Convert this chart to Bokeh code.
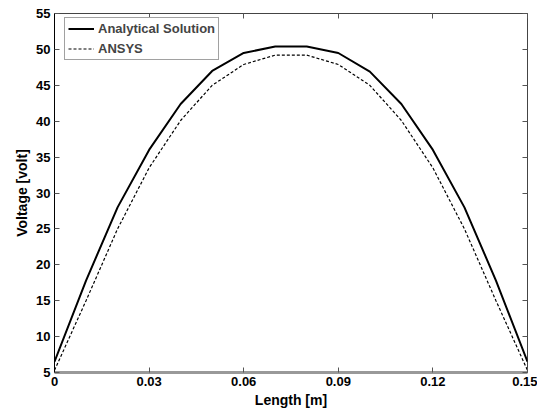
from bokeh.plotting import figure
from bokeh.models import Range1d, FixedTicker, LinearAxis, Legend, LegendItem, CustomJSTickFormatter
from bokeh.embed import file_html
from bokeh.resources import INLINE

# Data
length_m = [0.00, 0.01, 0.02, 0.03, 0.04, 0.05, 0.06, 0.07,
            0.08, 0.09, 0.10, 0.11, 0.12, 0.13, 0.14, 0.15]
analytical = [6.5, 17.8, 28.0, 36.0, 42.4, 47.0, 49.5, 50.4,
              50.4, 49.5, 46.9, 42.4, 36.0, 28.0, 17.8, 6.5]
ansys = [5.3, 15.0, 25.0, 33.5, 40.1, 45.0, 47.9, 49.2,
         49.2, 47.9, 45.0, 40.1, 33.5, 25.0, 15.0, 5.3]

x_ticks = [0, 0.03, 0.06, 0.09, 0.12, 0.15]
x_tick_labels = ["0", "0.03", "0.06", "0.09", "0.12", "0.15"]
y_ticks = [5, 10, 15, 20, 25, 30, 35, 40, 45, 50, 55]

FONT = "Liberation Sans"

p = figure(width=537, height=410, output_backend="svg", toolbar_location=None,
           x_range=Range1d(0, 0.15), y_range=Range1d(5, 55),
           min_border_left=54, min_border_right=10, min_border_top=13, min_border_bottom=38)
p.background_fill_color = "white"
p.border_fill_color = "white"
p.outline_line_color = "#444444"
p.outline_line_width = 1
p.xgrid.visible = False
p.ygrid.visible = False

r1 = p.line(length_m, analytical, line_color="black", line_width=2)
r2 = p.line(length_m, ansys, line_color="black", line_width=1.2, line_dash="3 2")

# main axes
xa = p.xaxis[0]
xa.ticker = FixedTicker(ticks=x_ticks)
xa.major_label_overrides = {t: l for t, l in zip(x_ticks, x_tick_labels)}
ya = p.yaxis[0]
ya.ticker = FixedTicker(ticks=y_ticks)

for ax in (xa, ya):
    ax.major_tick_in = 5
    ax.major_tick_out = 0
    ax.minor_tick_in = 0
    ax.minor_tick_out = 0
    ax.major_tick_line_color = "#555555"
    ax.major_label_text_font = FONT
    ax.major_label_text_font_style = "bold"
    ax.major_label_text_font_size = "13px"
    ax.major_label_text_color = "black"
    ax.axis_label_text_font = FONT
    ax.axis_label_text_font_style = "bold"
    ax.axis_label_text_font_size = "14px"
    ax.axis_label_text_color = "black"

xa.axis_label = "Length [m]"
ya.axis_label = "Voltage [volt]"
xa.axis_line_color = "#999999"
xa.axis_line_width = 3
ya.axis_line_color = "black"
ya.axis_line_width = 1
xa.major_label_standoff = 4
ya.major_label_standoff = 4
xa.axis_label_standoff = 3
ya.axis_label_standoff = 3

# mirrored tick-only axes
blank = CustomJSTickFormatter(code="return ''")
top = LinearAxis(ticker=FixedTicker(ticks=x_ticks), formatter=blank)
right = LinearAxis(ticker=FixedTicker(ticks=y_ticks), formatter=blank)
for ax in (top, right):
    ax.major_tick_in = 5
    ax.major_tick_out = 0
    ax.minor_tick_in = 0
    ax.minor_tick_out = 0
    ax.major_tick_line_color = "#555555"
    ax.axis_line_color = None
    ax.major_label_standoff = 0
p.add_layout(top, "above")
p.add_layout(right, "right")

legend = Legend(items=[LegendItem(label="Analytical Solution", renderers=[r1]),
                       LegendItem(label="ANSYS", renderers=[r2])])
legend.margin = 0
legend.padding = 3
legend.spacing = 5
legend.label_height = 15
legend.glyph_height = 15
legend.glyph_width = 26
legend.label_standoff = 4
legend.label_text_font = FONT
legend.label_text_font_style = "bold"
legend.label_text_font_size = "13px"
legend.border_line_color = "#444444"
legend.border_line_width = 1
legend.background_fill_alpha = 1
legend.location = (10, 359 - 6 - 41)
p.add_layout(legend, "center")

open("out.html", "w").write(file_html(p, INLINE))
